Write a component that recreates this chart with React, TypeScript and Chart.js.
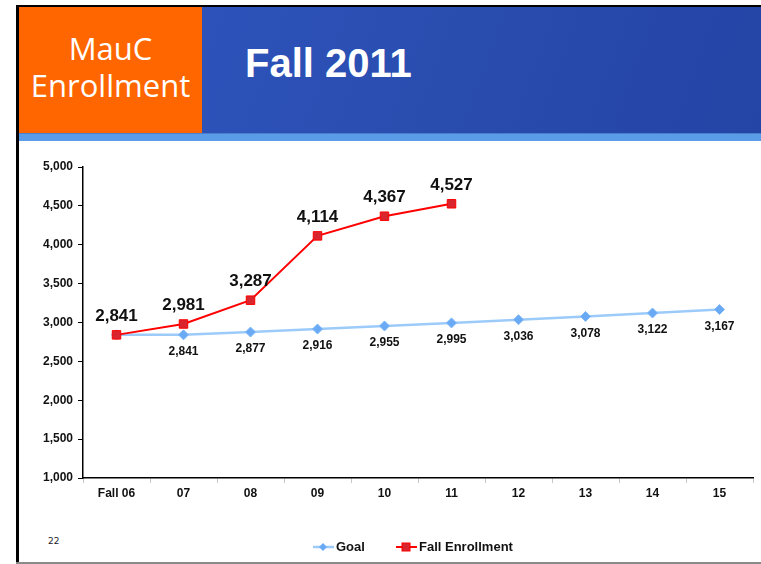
import React, { useEffect, useRef } from "react";
import { Chart, registerables } from "chart.js";

Chart.register(...registerables);

const categories = ["Fall 06", "07", "08", "09", "10", "11", "12", "13", "14", "15"];
const goalValues = [2841, 2841, 2877, 2916, 2955, 2995, 3036, 3078, 3122, 3167];
const fallEnrollmentValues = [2841, 2981, 3287, 4114, 4367, 4527, null, null, null, null];
const goalLabelHidden = [0];
const yMin = 1000;
const yMax = 5000;
const yStep = 500;

const FONT = "Arial, 'Liberation Sans', sans-serif";
const fmt = (v: number) => v.toLocaleString("en-US");

const GOAL_LINE = "#9CCBFA";
const GOAL_POINT = "#6AAAF5";
const RED_LINE = "#FF0000";
const RED_FILL = "#D9262E";

const dataLabelPlugin = {
  id: "dataLabels",
  afterDatasetsDraw(chart: any) {
    const ctx = chart.ctx;
    ctx.save();
    ctx.textAlign = "center";
    chart.data.datasets.forEach((ds: any, di: number) => {
      const meta = chart.getDatasetMeta(di);
      meta.data.forEach((pt: any, i: number) => {
        const v = ds.data[i];
        if (v == null) return;
        if (ds.label === "Goal") {
          if (goalLabelHidden.includes(i)) return;
          ctx.font = `bold 12px ${FONT}`;
          ctx.fillStyle = "#111";
          ctx.textBaseline = "middle";
          ctx.fillText(fmt(v), pt.x, pt.y + 17);
        } else {
          ctx.font = `bold 17px ${FONT}`;
          ctx.fillStyle = "#111";
          ctx.textBaseline = "alphabetic";
          ctx.fillText(fmt(v), pt.x, pt.y - 14);
        }
      });
    });
    ctx.restore();
  },
};

const legendPlugin = {
  id: "customLegend",
  afterDraw(chart: any) {
    const ctx = chart.ctx;
    const y = 406;
    ctx.save();
    ctx.font = `bold 13px ${FONT}`;
    ctx.textBaseline = "middle";
    ctx.textAlign = "left";
    // Goal
    ctx.strokeStyle = GOAL_LINE;
    ctx.lineWidth = 2.5;
    ctx.beginPath();
    ctx.moveTo(295, y);
    ctx.lineTo(316, y);
    ctx.stroke();
    ctx.fillStyle = GOAL_POINT;
    ctx.beginPath();
    ctx.moveTo(305, y - 4);
    ctx.lineTo(309, y);
    ctx.lineTo(305, y + 4);
    ctx.lineTo(301, y);
    ctx.closePath();
    ctx.fill();
    ctx.fillStyle = "#111";
    ctx.fillText(chart.data.datasets[0].label, 318, y);
    // Fall Enrollment
    ctx.strokeStyle = RED_LINE;
    ctx.lineWidth = 2;
    ctx.beginPath();
    ctx.moveTo(378, y);
    ctx.lineTo(399, y);
    ctx.stroke();
    ctx.fillStyle = RED_FILL;
    ctx.fillRect(384, y - 4, 8, 8);
    ctx.strokeStyle = RED_LINE;
    ctx.lineWidth = 1;
    ctx.strokeRect(384, y - 4, 8, 8);
    ctx.fillStyle = "#111";
    ctx.fillText(chart.data.datasets[1].label, 401, y);
    ctx.restore();
  },
};

function EnrollmentChart() {
  const ref = useRef<HTMLCanvasElement | null>(null);
  useEffect(() => {
    if (!ref.current) return;
    const chart = new Chart(ref.current, {
      type: "line",
      data: {
        labels: categories,
        datasets: [
          {
            label: "Goal",
            data: goalValues,
            borderColor: GOAL_LINE,
            borderWidth: 2.5,
            backgroundColor: GOAL_POINT,
            pointStyle: "rectRot",
            pointRadius: 5,
            pointBackgroundColor: GOAL_POINT,
            pointBorderColor: "#7DB6F7",
            pointBorderWidth: 1,
            tension: 0,
            order: 1,
          },
          {
            label: "Fall Enrollment",
            data: fallEnrollmentValues,
            borderColor: RED_LINE,
            borderWidth: 2,
            backgroundColor: RED_FILL,
            pointStyle: "rect",
            pointRadius: 6,
            pointBackgroundColor: RED_FILL,
            pointBorderColor: RED_LINE,
            pointBorderWidth: 1,
            tension: 0,
            spanGaps: false,
            order: 0,
          },
        ],
      },
      options: {
        responsive: false,
        animation: false,
        devicePixelRatio: 1,
        layout: { padding: { left: 0, right: 8, top: 26, bottom: 0 } },
        plugins: {
          legend: { display: false },
          tooltip: { enabled: false },
          title: { display: false },
        },
        scales: {
          x: {
            type: "category",
            offset: true,
            grid: {
              display: true,
              drawOnChartArea: false,
              drawTicks: true,
              tickLength: 5,
              color: "#C8C8C8",
              offset: true,
            },
            border: { display: true, color: "#000", width: 1.5 },
            ticks: {
              color: "#111",
              font: { family: FONT, size: 12, weight: "bold" },
              padding: 3,
              maxRotation: 0,
              autoSkip: false,
            },
            afterFit: (scale: any) => {
              scale.height = 84;
            },
          },
          y: {
            type: "linear",
            min: yMin,
            max: yMax,
            grid: {
              display: true,
              drawOnChartArea: false,
              drawTicks: true,
              tickLength: 5,
              color: "#000",
            },
            border: { display: true, color: "#000", width: 1.5 },
            ticks: {
              stepSize: yStep,
              color: "#111",
              font: { family: FONT, size: 12, weight: "bold" },
              padding: 5,
              callback: (v: any) => fmt(Number(v)),
            },
            afterFit: (scale: any) => {
              scale.width = 65;
            },
          },
        },
      },
      plugins: [dataLabelPlugin, legendPlugin],
    });
    return () => chart.destroy();
  }, []);
  return (
    <canvas
      ref={ref}
      width={743}
      height={421}
      style={{ position: "absolute", left: 18, top: 141, width: 743, height: 421 }}
    />
  );
}

export default function App() {
  return (
    <div
      style={{
        position: "absolute",
        left: 0,
        top: 0,
        width: 761,
        height: 564,
        overflow: "hidden",
        background: "#fff",
      }}
    >
      {/* slide borders */}
      <div style={{ position: "absolute", left: 16, top: 5, width: 745, height: 2, background: "#000" }} />
      <div style={{ position: "absolute", left: 16, top: 5, width: 3, height: 559, background: "#000" }} />
      <div style={{ position: "absolute", left: 16, top: 562, width: 745, height: 2, background: "#8a8a8a" }} />
      {/* blue header */}
      <div
        style={{
          position: "absolute",
          left: 202,
          top: 7,
          width: 559,
          height: 126,
          background: "linear-gradient(110deg, #2D53BA 0%, #2A4DB0 40%, #2444A6 100%)",
        }}
      />
      {/* orange box */}
      <div
        style={{
          position: "absolute",
          left: 19,
          top: 7,
          width: 183,
          height: 126,
          background: "#FF6600",
          color: "#fff",
          fontFamily: "'Open Sans', sans-serif",
          fontSize: 31,
          lineHeight: "37px",
          textAlign: "center",
          paddingTop: 23,
          boxSizing: "border-box",
        }}
      >
        <div>MauC</div>
        <div>Enrollment</div>
      </div>
      {/* strip */}
      <div style={{ position: "absolute", left: 19, top: 133, width: 742, height: 1, background: "#4A7DCC" }} />
      <div style={{ position: "absolute", left: 19, top: 134, width: 742, height: 7, background: "#5B9CE8" }} />
      {/* title */}
      <div
        style={{
          position: "absolute",
          left: 245,
          top: 39,
          color: "#fff",
          fontFamily: FONT,
          fontWeight: "bold",
          fontSize: 40,
          lineHeight: "48px",
          whiteSpace: "nowrap",
        }}
      >
        Fall 2011
      </div>
      {/* slide number */}
      <div
        style={{
          position: "absolute",
          left: 48,
          top: 535,
          color: "#222",
          fontFamily: "'DejaVu Sans', sans-serif",
          fontSize: 9,
          lineHeight: "12px",
        }}
      >
        22
      </div>
      <EnrollmentChart />
    </div>
  );
}
